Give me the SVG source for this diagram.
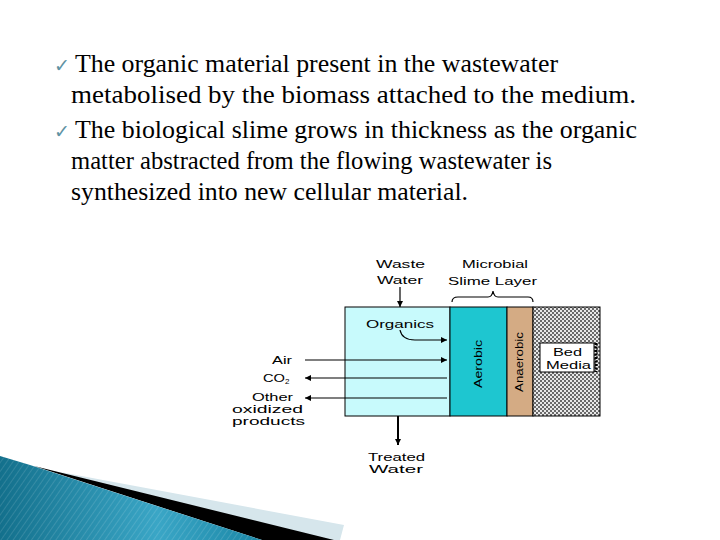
<svg xmlns="http://www.w3.org/2000/svg" width="720" height="540" viewBox="0 0 720 540">
<style>
.body{font-family:"Liberation Serif","Times New Roman",serif;font-size:25px;fill:#000}
.chk{font-family:"DejaVu Sans",sans-serif;font-size:19px;fill:#5f93a3}
.lbl{font-family:"Liberation Sans",Arial,sans-serif;font-size:11.5px;fill:#000}
.ln{stroke:#000;stroke-width:1.2;fill:none}
</style>
<defs>
<marker id="ah" viewBox="0 0 10 10" refX="10" refY="5" markerWidth="8" markerHeight="6" orient="auto" markerUnits="userSpaceOnUse">
<path d="M0,0 L10,5 L0,10 z" fill="#000"/>
</marker>
<pattern id="chk" width="4" height="4" patternUnits="userSpaceOnUse">
<rect width="4" height="4" fill="#e8e8e8"/>
<rect width="2" height="2" fill="#6a6a6a"/>
<rect x="2" y="2" width="2" height="2" fill="#6a6a6a"/>
</pattern>
<linearGradient id="bg" x1="0" y1="0" x2="1" y2="0">
<stop offset="0" stop-color="#13708c"/>
<stop offset="0.6" stop-color="#3aa6c6"/>
<stop offset="1" stop-color="#1b87a6"/>
</linearGradient>
<pattern id="str" width="5" height="5" patternUnits="userSpaceOnUse" patternTransform="rotate(35)">
<rect width="1" height="5" fill="#ffffff" opacity="0.12"/>
</pattern>
</defs>
<rect width="720" height="540" fill="#fff"/>

<g id="decoration">
<polygon points="60,472 344,525 340,540 300,540" fill="#d6e6ec"/>
<polygon points="34,466 334,540 262,540" fill="#000"/>
<polygon points="0,456 30,465 262,540 0,540" fill="url(#bg)"/>
<polygon points="0,456 30,465 262,540 0,540" fill="url(#str)"/>
</g>

<g id="bullets">
<text class="chk" x="54" y="72">✓</text>
<text class="body" x="75" y="72" textLength="483" lengthAdjust="spacingAndGlyphs">The organic material present in the wastewater</text>
<text class="body" x="71" y="103" textLength="565" lengthAdjust="spacingAndGlyphs">metabolised by the biomass attached to the medium.</text>
<text class="chk" x="54" y="138">✓</text>
<text class="body" x="75" y="138" textLength="562" lengthAdjust="spacingAndGlyphs">The biological slime grows in thickness as the organic</text>
<text class="body" x="71" y="169" textLength="481" lengthAdjust="spacingAndGlyphs">matter abstracted from the flowing wastewater is</text>
<text class="body" x="71" y="200" textLength="397" lengthAdjust="spacingAndGlyphs">synthesized into new cellular material.</text>
</g>

<g id="water-zone">
<rect x="345" y="307" width="105" height="109" fill="#c8fafc" stroke="#000" stroke-width="1"/>
<text class="lbl" x="366" y="328" textLength="68" lengthAdjust="spacingAndGlyphs">Organics</text>
</g>
<g id="aerobic">
<rect x="450" y="307" width="57" height="109" fill="#1ec6d0" stroke="#000" stroke-width="1"/>
<text class="lbl" transform="translate(482,388) rotate(-90)" textLength="48" lengthAdjust="spacingAndGlyphs">Aerobic</text>
</g>
<g id="anaerobic">
<rect x="507" y="307" width="26" height="109" fill="#d4ab84" stroke="#000" stroke-width="1"/>
<text class="lbl" transform="translate(523,392) rotate(-90)" textLength="60" lengthAdjust="spacingAndGlyphs">Anaerobic</text>
</g>
<g id="bed-media">
<rect x="533" y="307" width="67" height="109" fill="url(#chk)" stroke="#000" stroke-width="1"/>
<rect x="540" y="343" width="54" height="29" fill="#fff" stroke="#000" stroke-width="1"/>
<line x1="596" y1="343" x2="596" y2="372" stroke="#000" stroke-width="3" stroke-dasharray="2,1.5"/>
<text class="lbl" x="553" y="356" textLength="29" lengthAdjust="spacingAndGlyphs">Bed</text>
<text class="lbl" x="546" y="369" textLength="45" lengthAdjust="spacingAndGlyphs">Media</text>
</g>

<g id="labels">
<text class="lbl" x="376" y="268" textLength="49" lengthAdjust="spacingAndGlyphs">Waste</text>
<text class="lbl" x="377" y="284" textLength="46" lengthAdjust="spacingAndGlyphs">Water</text>
<text class="lbl" x="462" y="268" textLength="66" lengthAdjust="spacingAndGlyphs">Microbial</text>
<text class="lbl" x="448" y="285" textLength="89" lengthAdjust="spacingAndGlyphs">Slime Layer</text>
<text class="lbl" x="272" y="364" textLength="20" lengthAdjust="spacingAndGlyphs">Air</text>
<text class="lbl" x="263" y="382"><tspan textLength="22" lengthAdjust="spacingAndGlyphs">CO</tspan><tspan font-size="8" dy="2">2</tspan></text>
<text class="lbl" x="252" y="401" textLength="41" lengthAdjust="spacingAndGlyphs">Other</text>
<text class="lbl" x="232" y="413" textLength="71" lengthAdjust="spacingAndGlyphs">oxidized</text>
<text class="lbl" x="232" y="425" textLength="73" lengthAdjust="spacingAndGlyphs">products</text>
<text class="lbl" x="368" y="461" textLength="57" lengthAdjust="spacingAndGlyphs">Treated</text>
<text class="lbl" x="369" y="473" textLength="54" lengthAdjust="spacingAndGlyphs">Water</text>
<path class="ln" d="M452,302 Q452,297 458,297 L488,297 Q492,297 493,291 Q494,297 498,297 L528,297 Q533,297 533,302"/>
</g>

<g id="connectors">
<line class="ln" x1="400" y1="287" x2="400" y2="307" marker-end="url(#ah)"/>
<path class="ln" d="M400,330 Q402,340 415,340 L447,340" marker-end="url(#ah)"/>
<line class="ln" x1="305" y1="360" x2="447" y2="360" marker-end="url(#ah)"/>
<line class="ln" x1="447" y1="378" x2="305" y2="378" marker-end="url(#ah)"/>
<line class="ln" x1="447" y1="398" x2="305" y2="398" marker-end="url(#ah)"/>
<line x1="398" y1="416" x2="398" y2="445" stroke="#000" stroke-width="2" marker-end="url(#ah)"/>
</g>
</svg>
